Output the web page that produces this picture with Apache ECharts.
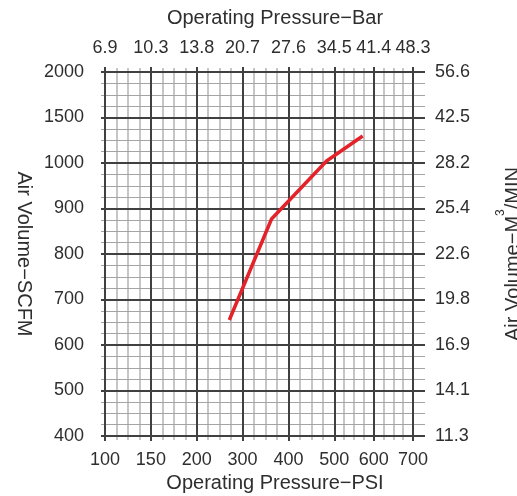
<!DOCTYPE html>
<html>
<head>
<meta charset="utf-8">
<script src="https://cdn.jsdelivr.net/npm/echarts@6/dist/echarts.min.js"></script>
<style>
html, body { margin: 0; padding: 0; background: #fff; }
#chart { width: 517px; height: 496px; }
</style>
</head>
<body>
<div id="chart"></div>
<script>
// tick labels
const psiTicks = [100, 150, 200, 300, 400, 500, 600, 700];
const barTicks = ['6.9', '10.3', '13.8', '20.7', '27.6', '34.5', '41.4', '48.3'];
const scfmTicks = [400, 500, 600, 700, 800, 900, 1000, 1500, 2000];
const m3Ticks = ['11.3', '14.1', '16.9', '19.8', '22.6', '25.4', '28.2', '42.5', '56.6'];

// curve
const curvePsi = [271, 363, 483, 572];
const curveScfm = [655, 877, 1022, 1297];

// paper grid: the last two PSI cells are narrower than the rest
const cellWidth = [7, 7, 7, 7, 7, 6, 6];

const majorPos = [0];
cellWidth.forEach((w, i) => majorPos.push(majorPos[i] + w));
const xMax = majorPos[majorPos.length - 1];
const minorPos = [];
cellWidth.forEach((w, i) => {
  for (let k = 1; k < 4; k++) minorPos.push(majorPos[i] + (w * k) / 4);
});

// PSI -> position on the paper grid (piecewise linear between the printed ticks)
const psiToX = p => {
  for (let i = 0; i < psiTicks.length - 1; i++) {
    if (p <= psiTicks[i + 1]) {
      return majorPos[i] + ((p - psiTicks[i]) / (psiTicks[i + 1] - psiTicks[i])) * cellWidth[i];
    }
  }
  return xMax;
};
// SCFM -> row index (evenly spaced rows, uneven values)
const scfmToY = s => {
  for (let i = 0; i < scfmTicks.length - 1; i++) {
    if (s <= scfmTicks[i + 1]) {
      return i + (s - scfmTicks[i]) / (scfmTicks[i + 1] - scfmTicks[i]);
    }
  }
  return scfmTicks.length - 1;
};

const font = 'Liberation Sans, Arial, sans-serif';
const dark = '#404040';
const lightV = '#c6c6c6';
const lightH = '#a4a4a4';
const textColor = '#2e2e2e';

const labelStyle = { fontSize: 18, color: textColor, fontFamily: font };
const nameStyle = { fontSize: 20, color: textColor, fontFamily: font };

const majorX = (pos, labels, name, gap) => ({
  type: 'value',
  position: pos,
  min: 0,
  max: xMax,
  z: 2,
  axisLine: { show: true, onZero: false, lineStyle: { color: dark, width: 2 } },
  axisTick: { show: true, length: 5, customValues: majorPos, lineStyle: { color: dark, width: 2 } },
  axisLabel: Object.assign({
    customValues: majorPos,
    margin: 15,
    formatter: v => labels[majorPos.indexOf(v)]
  }, labelStyle),
  splitLine: { show: true, lineStyle: { color: dark, width: 2 } },
  name: name,
  nameLocation: 'middle',
  nameGap: gap,
  nameTextStyle: Object.assign({ padding: [0, 0, 0, 32] }, nameStyle)
});

const minorX = (pos, grid) => ({
  type: 'value',
  position: pos,
  min: 0,
  max: xMax,
  z: 0,
  axisLine: { show: false, onZero: false },
  axisTick: { show: true, length: 4, customValues: minorPos, lineStyle: { color: lightV, width: 2 } },
  axisLabel: { show: false, customValues: minorPos },
  splitLine: { show: grid, lineStyle: { color: lightV, width: 2 } }
});

const chart = echarts.init(document.getElementById('chart'));
chart.setOption({
  backgroundColor: '#fff',
  animation: false,
  grid: { left: 105, right: 104, top: 72, bottom: 60, containLabel: false, outerBoundsMode: 'none' },
  xAxis: [
    majorX('bottom', psiTicks, 'Operating Pressure−PSI', 36),
    majorX('top', barTicks, 'Operating Pressure−Bar', 44),
    minorX('bottom', true),
    minorX('top', false)
  ],
  yAxis: [
    {
      type: 'value',
      position: 'left',
      min: 0,
      max: scfmTicks.length - 1,
      interval: 1,
      z: 1,
      axisLine: { show: true, onZero: false, lineStyle: { color: dark, width: 2 } },
      axisTick: { show: true, length: 4, lineStyle: { color: dark, width: 2 } },
      minorTick: { show: true, splitNumber: 4, length: 4, lineStyle: { color: lightH, width: 1 } },
      axisLabel: Object.assign({ margin: 21, formatter: v => scfmTicks[Math.round(v)] }, labelStyle),
      splitLine: { show: true, lineStyle: { color: dark, width: 2 } },
      minorSplitLine: { show: true, lineStyle: { color: lightH, width: 1 } },
      name: 'Air Volume−SCFM',
      nameLocation: 'middle',
      nameRotate: -90,
      nameGap: 64,
      nameTextStyle: nameStyle
    },
    {
      type: 'value',
      position: 'right',
      min: 0,
      max: scfmTicks.length - 1,
      interval: 1,
      z: 1,
      axisLine: { show: true, onZero: false, lineStyle: { color: dark, width: 2 } },
      axisTick: { show: true, length: 12, lineStyle: { color: dark, width: 2 } },
      minorTick: { show: true, splitNumber: 4, length: 12, lineStyle: { color: lightH, width: 1 } },
      axisLabel: Object.assign({ margin: 22, formatter: v => m3Ticks[Math.round(v)] }, labelStyle),
      splitLine: { show: false },
      name: 'Air Volume−M{s|3}/MIN',
      nameLocation: 'middle',
      nameRotate: 90,
      nameGap: 82,
      nameTextStyle: Object.assign({
        lineHeight: 36,
        rich: { s: { fontSize: 12, lineHeight: 10, verticalAlign: 'top', color: textColor, fontFamily: font } }
      }, nameStyle)
    }
  ],
  series: [
    {
      type: 'line',
      xAxisIndex: 0,
      yAxisIndex: 0,
      z: 5,
      symbol: 'none',
      lineStyle: { color: '#e4222a', width: 3.5 },
      data: curvePsi.map((p, i) => [psiToX(p), scfmToY(curveScfm[i])])
    }
  ]
});
</script>
</body>
</html>
